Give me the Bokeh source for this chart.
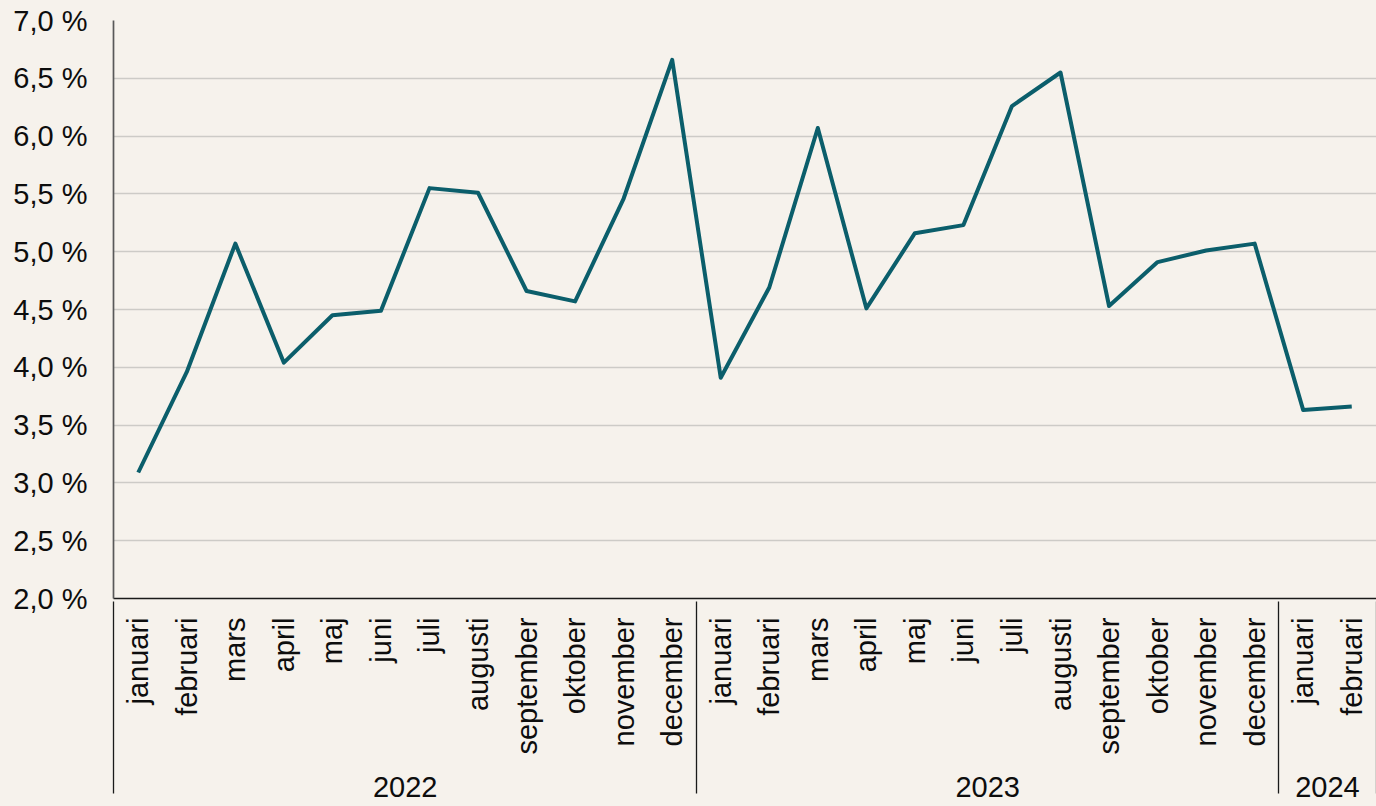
import math
from bokeh.plotting import figure
from bokeh.models import (FactorRange, Range1d, FixedTicker, CustomJSTickFormatter,
                          ColumnDataSource)
from bokeh.embed import file_html
from bokeh.resources import INLINE

# ---------------- data ----------------
months_2022 = ["januari", "februari", "mars", "april", "maj", "juni", "juli",
               "augusti", "september", "oktober", "november", "december"]
months_2023 = ["januari", "februari", "mars", "april", "maj", "juni", "juli",
               "augusti", "september", "oktober", "november", "december"]
months_2024 = ["januari", "februari"]

values_2022 = [3.09, 3.96, 5.07, 4.04, 4.45, 4.49, 5.55, 5.51, 4.66, 4.57, 5.46, 6.66]
values_2023 = [3.91, 4.69, 6.07, 4.51, 5.16, 5.23, 6.26, 6.55, 4.53, 4.91, 5.01, 5.07]
values_2024 = [3.63, 3.66]

y_ticks = [2.0, 2.5, 3.0, 3.5, 4.0, 4.5, 5.0, 5.5, 6.0, 6.5, 7.0]
y_tick_labels = ["2,0 %", "2,5 %", "3,0 %", "3,5 %", "4,0 %", "4,5 %",
                 "5,0 %", "5,5 %", "6,0 %", "6,5 %", "7,0 %"]

# ---------------- build ----------------
factors = ([("2022", m) for m in months_2022] +
           [("2023", m) for m in months_2023] +
           [("2024", m) for m in months_2024])
values = values_2022 + values_2023 + values_2024

# invisible spacer groups just outside the visible range, so that the axis also
# draws a group separator at the left edge of the plot
lead_pad = [(" ", " ")]
trail_pad = [("  ", "  ")]

BG = "#f6f2ec"
TXT = "#0d0d0d"
FONT = "Liberation Sans"
FS = "29px"

x_range = FactorRange(factors=lead_pad + factors + trail_pad,
                      factor_padding=0, group_padding=0, subgroup_padding=0,
                      range_padding=-0.99, range_padding_units="absolute")

p = figure(x_range=x_range, y_range=Range1d(y_ticks[0], y_ticks[-1]), width=1376, height=806,
           output_backend="svg", toolbar_location=None,
           min_border_left=113, min_border_right=0, min_border_top=20, min_border_bottom=208)

p.background_fill_color = BG
p.border_fill_color = BG
p.outline_line_color = None

src = ColumnDataSource(dict(x=factors, y=values))
p.line(x="x", y="y", source=src, line_color="#0b5e6b", line_width=4, line_join="round")

# y axis
p.yaxis.ticker = FixedTicker(ticks=y_ticks)
p.yaxis.formatter = CustomJSTickFormatter(
    args=dict(yt=y_ticks, yl=y_tick_labels),
    code="const i = yt.findIndex(t => Math.abs(t - tick) < 1e-9); return i >= 0 ? yl[i] : '';")
p.yaxis.major_tick_line_color = None
p.yaxis.minor_tick_line_color = None
p.yaxis.major_tick_out = 0
p.yaxis.major_tick_in = 0
p.yaxis.major_label_standoff = 26
p.yaxis.axis_line_color = "#595959"
p.yaxis.axis_line_width = 1.7
p.yaxis.major_label_text_font = FONT
p.yaxis.major_label_text_font_size = FS
p.yaxis.major_label_text_color = TXT

p.ygrid.ticker = FixedTicker(ticks=y_ticks)
p.ygrid.grid_line_color = "#cdcbc7"
p.ygrid.grid_line_width = 1.3
p.xgrid.visible = False

# x axis (nested categories)
xa = p.xaxis[0]
xa.major_label_orientation = math.pi / 2
xa.group_label_orientation = "parallel"
xa.major_tick_line_color = None
xa.major_tick_out = 0
xa.major_tick_in = 0
xa.major_label_standoff = 19
xa.major_label_text_font = FONT
xa.major_label_text_font_size = FS
xa.major_label_text_color = TXT
xa.group_text_font = FONT
xa.group_text_font_size = FS
xa.group_text_font_style = "normal"
xa.group_text_color = TXT
xa.separator_line_color = "#1a1a1a"
xa.separator_line_width = 1.3
xa.axis_line_color = "#1a1a1a"
xa.axis_line_width = 1.3

template = """{% block postamble %}<style>html, body { background: #f6f2ec; }</style>{% endblock %}"""
open("out.html", "w").write(file_html(p, INLINE, template=template))
